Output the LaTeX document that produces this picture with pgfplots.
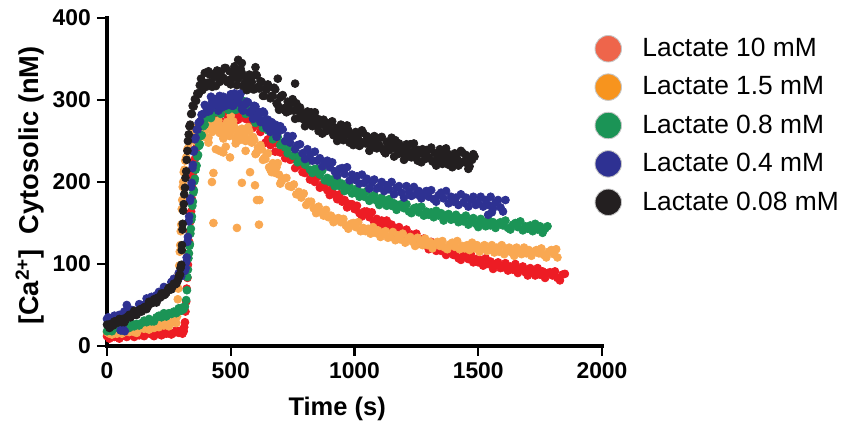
\documentclass[border=0pt]{standalone}
\usepackage{fontspec}
\setmainfont{Liberation Sans}
\usepackage{pgfplots}
\pgfplotsset{compat=1.18}

\definecolor{cRed}{HTML}{ED1C24}
\definecolor{cOrange}{HTML}{F9A852}
\definecolor{cGreen}{HTML}{1B9456}
\definecolor{cBlue}{HTML}{2E3192}
\definecolor{cBlack}{HTML}{231F20}
\definecolor{lRed}{HTML}{EE654B}
\definecolor{lOrange}{HTML}{F7941E}

\begin{document}
\begin{tikzpicture}
\begin{axis}[
  name=main,
  scale only axis, width=99mm, height=65.6mm,
  xmin=0, xmax=2000, ymin=0, ymax=400,
  axis x line*=bottom, axis y line*=left,
  axis line style={line width=1.9pt, black, line cap=rect},
  xtick={0,500,1000,1500,2000}, ytick={0,100,200,300,400},
  tick align=outside, major tick length=2mm,
  tick style={line width=1.4pt, black},
  /pgf/number format/assume math mode=true,
  /pgf/number format/1000 sep={},
  ticklabel style={font=\bfseries\fontsize{13}{15}\selectfont},
  xlabel={Time (s)},
  ylabel={[Ca\textsuperscript{2+}]\ \ Cytosolic (nM)},
  xlabel style={font=\bfseries\fontsize{14.5}{16}\selectfont,
    at={(axis description cs:0.465,-0.155)}, anchor=north, inner sep=0pt},
  ylabel style={font=\bfseries\fontsize{15.5}{17}\selectfont,
    at={(axis description cs:-0.127,0.489)}, anchor=south, inner sep=0pt},
  clip=false,
  legend cell align=left,
  legend image code/.code={\filldraw[#1] (2.65mm,0mm) circle (2.65mm);},
  legend style={draw=none, fill=none, inner sep=0pt, outer sep=0pt,
    at={(axis description cs:0.985,0.948)}, anchor=north west,
    font=\fontsize{15}{17}\selectfont, row sep=2.2mm,
    nodes={inner sep=0pt},
    /tikz/every odd column/.append style={column sep=4.1mm}},
  every axis plot/.append style={only marks, mark=*, mark size=2.25pt, forget plot},
]

% Lactate 10 mM
\addplot[color=cRed] coordinates {
(0,12)(10,9)(20,14)(30,11)(40,14)(50,9)(60,12)(70,14)(80,11)(90,13)(100,15)(110,11)(120,14)(130,13)(140,17)(150,12)(160,15)(170,16)(180,14)(190,12)
(200,17)(210,15)(220,13)(230,19)(240,15)(250,17)(260,14)(270,16)(280,19)(290,16)(300,19)(305,15)(310,18)
(312,23)(315,29)(317,42)(320,54)(322,70)(325,83)(327,99)(330,113)(332,127)(335,139)(337,152)(340,164)(342,180)(345,193)(347,207)(350,213)(352,224)(355,228)(357,237)(360,241)
(370,258)(380,257)(390,273)(400,271)(410,283)(420,272)(430,281)(440,285)(450,278)(460,274)(470,288)(480,283)(490,279)(500,291)(510,281)(520,286)(530,276)(540,283)(550,284)(560,277)
(570,284)(580,272)(590,266)(600,271)(610,270)(620,261)(630,266)(640,248)(650,252)(660,245)(670,247)(680,237)(690,247)(700,236)
(710,237)(720,229)(730,235)(740,227)(750,228)(760,217)(770,221)(780,221)(790,212)(800,211)(810,215)(820,203)(830,207)(840,200)(850,206)(860,193)(870,197)(880,198)(890,190)(900,184)
(910,192)(920,185)(930,179)(940,185)(950,176)(960,178)(970,169)(980,173)(990,173)(1000,167)(1010,171)(1020,162)(1030,158)(1040,164)(1050,164)(1060,157)(1070,163)(1080,151)(1090,155)(1100,150)
(1110,153)(1120,145)(1130,153)(1140,145)(1150,148)(1160,139)(1170,143)(1180,145)(1190,136)(1200,137)(1210,142)(1220,131)(1230,136)(1240,130)(1250,137)(1260,125)(1270,129)(1280,131)(1290,123)(1300,118)
(1310,127)(1320,122)(1330,116)(1340,124)(1350,116)(1360,119)(1370,111)(1380,115)(1390,116)(1400,111)(1410,116)(1420,107)(1430,105)(1440,111)(1450,112)(1460,106)(1470,112)(1480,102)(1490,106)(1500,102)
(1510,105)(1520,98)(1530,107)(1540,100)(1550,103)(1560,94)(1570,100)(1580,102)(1590,95)(1600,96)(1610,101)(1620,92)(1630,97)(1640,93)(1650,100)(1660,89)(1670,94)(1680,97)(1690,90)(1700,86)
(1710,95)(1720,91)(1730,86)(1740,95)(1750,87)(1760,91)(1770,83)(1780,89)(1790,90)(1800,86)(1810,91)(1820,83)(1830,80)(1840,87)(1850,88)
};

% Lactate 1.5 mM
\addplot[color=cOrange] coordinates {
(0,17)(10,15)(20,14)(30,19)(40,15)(50,18)(60,15)(70,17)(80,19)(90,17)(100,20)(110,17)(120,16)(130,21)(140,22)(150,21)(160,25)(170,20)(180,24)(190,22)
(200,25)(210,23)(220,28)(230,25)(240,28)(250,24)(260,28)(270,31)(280,28)
(283,36)(286,57)(288,70)(290,88)(292,98)(294,115)(296,123)(298,140)(300,148)(302,167)(304,178)(306,194)(308,200)(310,212)(313,215)(316,226)(320,230)(325,240)(330,242)(335,250)
(345,257)(355,250)(365,267)(375,259)(385,267)(395,255)(405,265)(415,271)(425,261)(435,265)(445,272)(455,260)(465,268)(475,261)(485,273)(495,256)(505,265)(515,267)(525,257)(535,251)
(545,265)(555,259)(565,253)(575,262)(585,248)(595,251)(605,236)(615,240)(625,240)(635,229)(645,234)(655,218)(665,212)(675,219)(685,218)(695,209)
(350,263)(360,258)(370,253)(380,273)(390,259)(400,269)(410,254)(420,266)(430,272)(440,264)(450,275)(460,259)(470,253)(480,268)(490,270)(500,262)(510,274)(520,253)(530,263)(540,255)
(550,263)(560,250)(570,267)(580,250)(590,255)(600,234)(610,242)(620,245)(630,227)(640,228)(650,235)(660,215)(670,223)(680,211)(690,223)(700,198)
(410,248)(424,200)(430,211)(430,150)(455,238)(497,230)(525,144)(545,199)(578,212)(598,196)(606,178)(616,178)(614,148)(480,243)(520,247)(560,238)(457,284)(500,281)(440,240)(470,236)
(705,201)(715,204)(725,205)(735,195)(745,194)(755,197)(765,185)(775,188)(785,181)(795,186)(805,172)(815,176)(825,176)(835,168)(845,162)(855,170)(865,164)(875,159)(885,166)(895,157)
(905,159)(915,151)(925,155)(935,156)(945,151)(955,155)(965,147)(975,143)(985,149)(995,150)(1005,145)(1015,151)(1025,140)(1035,144)(1045,140)(1055,143)(1065,137)(1075,145)(1085,138)(1095,141)
(1105,133)(1115,138)(1125,140)(1135,132)(1145,133)(1155,139)(1165,129)(1175,135)(1185,130)(1195,137)(1205,126)(1215,131)(1225,133)(1235,127)(1245,122)(1255,132)(1265,127)(1275,123)(1285,131)(1295,123)
(1305,127)(1315,119)(1325,125)(1335,127)(1345,122)(1355,128)(1365,120)(1375,118)(1385,124)(1395,126)(1405,121)(1415,128)(1425,118)(1435,122)(1445,119)(1455,123)(1465,117)(1475,126)(1485,119)(1495,123)
(1505,115)(1515,120)(1525,123)(1535,116)(1545,117)(1555,123)(1565,114)(1575,120)(1585,115)(1595,123)(1605,112)(1615,118)(1625,120)(1635,114)(1645,110)(1655,120)(1665,116)(1675,112)(1685,120)(1695,113)
(1705,117)(1715,110)(1725,115)(1735,117)(1745,113)(1755,119)(1765,111)(1775,108)(1785,115)(1795,117)(1805,112)(1815,118)(1820,108)
};

% Lactate 0.8 mM
\addplot[color=cGreen] coordinates {
(0,18)(10,23)(20,18)(30,22)(40,23)(50,21)(60,19)(70,25)(80,23)(90,22)(100,27)(110,24)(120,27)(130,25)(140,28)(150,31)(160,29)(170,33)(180,30)(190,30)
(200,35)(210,37)(220,35)(230,40)(240,36)(250,40)(260,39)(270,42)(280,40)(290,46)(300,43)(305,47)(310,45)(315,48)
(320,56)(323,68)(325,84)(327,93)(329,107)(331,113)(333,122)(335,124)(337,137)(339,143)(341,154)(343,158)(345,171)(347,176)(349,187)(351,190)(353,201)(355,204)(358,215)(362,220)
(365,231)(368,233)(372,244)(375,246)(379,256)(383,257)(389,268)(395,270)(400,278)
(410,283)(420,278)(430,293)(440,285)(450,293)(460,283)(470,292)(480,298)(490,288)(500,292)(510,299)(520,288)(530,295)(540,290)(550,299)(560,283)(570,290)(580,290)(590,280)(600,272)
(610,283)(620,274)(630,266)(640,275)(650,263)(660,264)(670,252)(680,255)(690,255)(700,245)
(710,248)(720,242)(730,235)(740,242)(750,232)(760,234)(770,224)(780,228)(790,227)(800,221)(810,225)(820,215)(830,211)(840,216)(850,216)(860,209)(870,214)(880,202)(890,205)(900,200)
(910,203)(920,195)(930,203)(940,195)(950,198)(960,189)(970,193)(980,195)(990,186)(1000,187)(1010,192)(1020,182)(1030,187)(1040,182)(1050,189)(1060,177)(1070,182)(1080,184)(1090,177)(1100,172)
(1110,181)(1120,176)(1130,171)(1140,179)(1150,171)(1160,174)(1170,166)(1180,172)(1190,173)(1200,168)(1210,173)(1220,164)(1230,162)(1240,168)(1250,169)(1260,163)(1270,170)(1280,159)(1290,164)(1300,160)
(1310,163)(1320,157)(1330,165)(1340,159)(1350,162)(1360,153)(1370,159)(1380,161)(1390,154)(1400,155)(1410,160)(1420,151)(1430,156)(1440,152)(1450,159)(1460,148)(1470,153)(1480,156)(1490,149)(1500,145)
(1510,155)(1520,150)(1530,146)(1540,154)(1550,147)(1560,151)(1570,144)(1580,149)(1590,151)(1600,147)(1610,153)(1620,144)(1630,142)(1640,148)(1650,150)(1660,145)(1670,152)(1680,141)(1690,146)(1700,143)
(1710,147)(1720,140)(1730,149)(1740,142)(1750,146)(1760,138)(1770,143)(1780,146)
};

% Lactate 0.4 mM
\addplot[color=cBlue] coordinates {
(0,33)(10,29)(20,32)(30,37)(40,33)(50,38)(60,36)(70,42)(80,37)(90,42)(100,44)(110,42)(120,42)(130,51)(140,50)(150,50)(160,58)(170,55)(180,60)(190,57)
(200,62)(210,66)(220,66)(230,72)(240,70)(250,70)(260,78)(270,82)(280,81)(290,89)(300,85)(310,91)(315,92)
(80,50)(55,19)(65,21)(72,18)(5,35)
(318,95)(320,102)(322,108)(325,127)(327,133)(330,152)(332,158)(335,177)(337,180)(340,194)(342,199)(345,217)(347,221)(350,237)(352,239)(355,252)(358,254)(362,264)(366,264)(370,272)
(376,274)(382,282)(388,283)
(395,294)(405,286)(415,287)(425,298)(435,301)(445,295)(455,305)(465,291)(475,300)(485,294)(495,302)(505,293)(515,308)(525,298)(535,304)(545,289)(555,295)(565,298)(575,285)(585,287)
(595,293)(605,279)(615,285)(625,275)(635,284)(645,266)(655,273)(665,273)(675,262)(685,255)(695,267)
(400,292)(410,286)(420,304)(430,293)(440,301)(450,287)(460,298)(470,304)(480,293)(490,297)(500,307)(510,293)(520,304)(530,297)(540,308)(550,287)(560,295)(570,297)(580,285)(590,277)
(600,292)(610,282)(620,273)(630,286)(640,271)(650,276)(660,261)(670,268)(680,270)(690,260)(700,268)
(710,264)(720,250)(730,256)(740,248)(750,256)(760,240)(770,245)(780,246)(790,235)(800,228)(810,240)(820,233)(830,226)(840,237)(850,226)(860,229)(870,219)(880,224)(890,226)(900,218)
(910,224)(920,213)(930,208)(940,216)(950,217)(960,210)(970,218)(980,202)(990,209)(1000,203)(1010,207)(1020,198)(1030,209)(1040,199)(1050,204)(1060,192)(1070,199)(1080,203)(1090,192)(1100,194)
(1110,200)(1120,189)(1130,196)(1140,191)(1150,200)(1160,185)(1170,193)(1180,195)(1190,187)(1200,181)(1210,195)(1220,188)(1230,183)(1240,194)(1250,185)(1260,189)(1270,180)(1280,186)(1290,189)(1300,182)
(1310,190)(1320,179)(1330,176)(1340,184)(1350,187)(1360,180)(1370,189)(1380,174)(1390,182)(1400,176)(1410,181)(1420,172)(1430,185)(1440,175)(1450,181)(1460,170)(1470,178)(1480,182)(1490,172)(1500,175)
(1510,182)(1520,170)(1530,178)(1540,172)(1550,182)(1560,168)(1570,175)(1580,178)(1590,169)(1600,164)(1610,178)
(1540,160)(1555,163)
};

% Lactate 0.08 mM
\addplot[color=cBlack] coordinates {
(0,26)(10,22)(20,26)(30,30)(40,28)(50,33)(60,29)(70,29)(80,35)(90,38)(100,37)(110,43)(120,38)(130,43)(140,42)(150,47)(160,45)(170,54)(180,52)(190,57)
(200,53)(210,59)(220,64)(230,62)(240,65)(250,71)(260,69)(270,76)(280,76)(290,84)
(5,25)(15,27)(25,25)(35,29)(45,31)(55,30)(65,33)(75,32)(85,36)(95,35)(105,39)(115,38)(125,42)(135,45)(145,44)(155,48)(165,48)(175,53)(185,53)(195,57)
(205,59)(215,59)(225,64)(235,63)(245,68)(255,69)(265,73)(275,75)(285,79)
(292,86)(295,87)(297,95)(300,99)(302,117)(303,123)(305,142)(306,149)(308,165)(310,173)(312,185)(315,193)(317,205)(320,213)(322,227)(325,238)(327,250)(330,258)(333,268)(336,270)
(340,283)(343,283)(346,293)(350,292)(355,301)(360,299)(365,308)(370,307)
(375,318)(385,312)(395,333)(405,321)(415,331)(425,316)(435,328)(445,336)(455,322)(465,327)(475,339)(485,322)(495,335)(505,326)(515,341)(525,318)(535,329)(545,333)(555,320)(565,312)
(575,331)(585,322)(595,313)(605,330)(615,314)(625,322)(635,305)(645,313)(655,316)(665,305)(675,315)(685,296)(695,288)
(380,326)(390,321)(400,316)(410,335)(420,322)(430,332)(440,317)(450,329)(460,334)(470,327)(480,339)(490,324)(500,319)(510,333)(520,335)(530,326)(540,338)(550,317)(560,327)(570,318)
(580,326)(590,313)(600,331)(610,316)(620,323)(630,305)(640,314)(650,319)(660,302)(670,305)(680,313)(690,294)(700,303)
(530,349)(545,345)(600,340)(690,326)(760,320)
(710,306)(720,287)(730,298)(740,287)(750,301)(760,277)(770,287)(780,291)(790,277)(800,268)(810,286)(820,277)(830,268)(840,285)(850,268)(860,276)(870,259)(880,269)(890,272)(900,263)
(910,274)(920,257)(930,250)(940,264)(950,266)(960,257)(970,269)(980,248)(990,257)(1000,249)(1010,257)(1020,244)(1030,263)(1040,249)(1050,256)(1060,238)(1070,249)(1080,256)(1090,241)(1100,245)
(1110,255)(1120,237)(1130,249)(1140,239)(1150,254)(1160,231)(1170,243)(1180,247)(1190,235)(1200,227)(1210,246)(1220,237)(1230,230)(1240,247)(1250,231)(1260,239)(1270,224)(1280,234)(1290,239)(1300,230)
(1310,242)(1320,225)(1330,220)(1340,234)(1350,237)(1360,229)(1370,241)(1380,221)(1390,230)(1400,223)(1410,232)(1420,220)(1430,238)(1440,225)(1450,233)(1460,216)(1470,228)(1480,234)
(705,305)(715,290)(725,285)(735,295)(745,296)(755,287)(765,296)(775,278)(785,285)(795,277)(805,282)(815,271)(825,285)(835,272)(845,278)(855,262)(865,271)(875,276)(885,262)(895,265)
(905,272)(915,257)(925,266)(935,258)(945,270)(955,251)(965,260)(975,263)(985,252)(995,245)(1005,261)(1015,253)(1025,246)(1035,260)(1045,247)(1055,254)(1065,241)(1075,249)(1085,252)(1095,244)
(1105,254)(1115,240)(1125,235)(1135,246)(1145,248)(1155,241)(1165,251)(1175,234)(1185,242)(1195,235)(1205,242)(1215,231)(1225,246)(1235,234)(1245,240)(1255,226)(1265,235)(1275,240)(1285,228)(1295,231)
(1305,240)(1315,225)(1325,235)(1335,228)(1345,240)(1355,222)(1365,231)(1375,235)(1385,225)(1395,218)(1405,235)(1415,228)(1425,222)(1435,236)(1445,224)(1455,231)(1465,219)(1475,227)(1485,231)
};

\addlegendimage{fill=lRed, draw=gray!45, line width=0.5pt}
\addlegendentry{Lactate 10 mM}
\addlegendimage{fill=lOrange, draw=gray!45, line width=0.5pt}
\addlegendentry{Lactate 1.5 mM}
\addlegendimage{fill=cGreen, draw=gray!45, line width=0.5pt}
\addlegendentry{Lactate 0.8 mM}
\addlegendimage{fill=cBlue, draw=gray!45, line width=0.5pt}
\addlegendentry{Lactate 0.4 mM}
\addlegendimage{fill=cBlack, draw=gray!45, line width=0.5pt}
\addlegendentry{Lactate 0.08 mM}
\end{axis}
\pgfresetboundingbox
\path (main.south west) ++(-21.4mm,-16.8mm) rectangle ++(168.2mm,86mm);
\end{tikzpicture}
\end{document}
